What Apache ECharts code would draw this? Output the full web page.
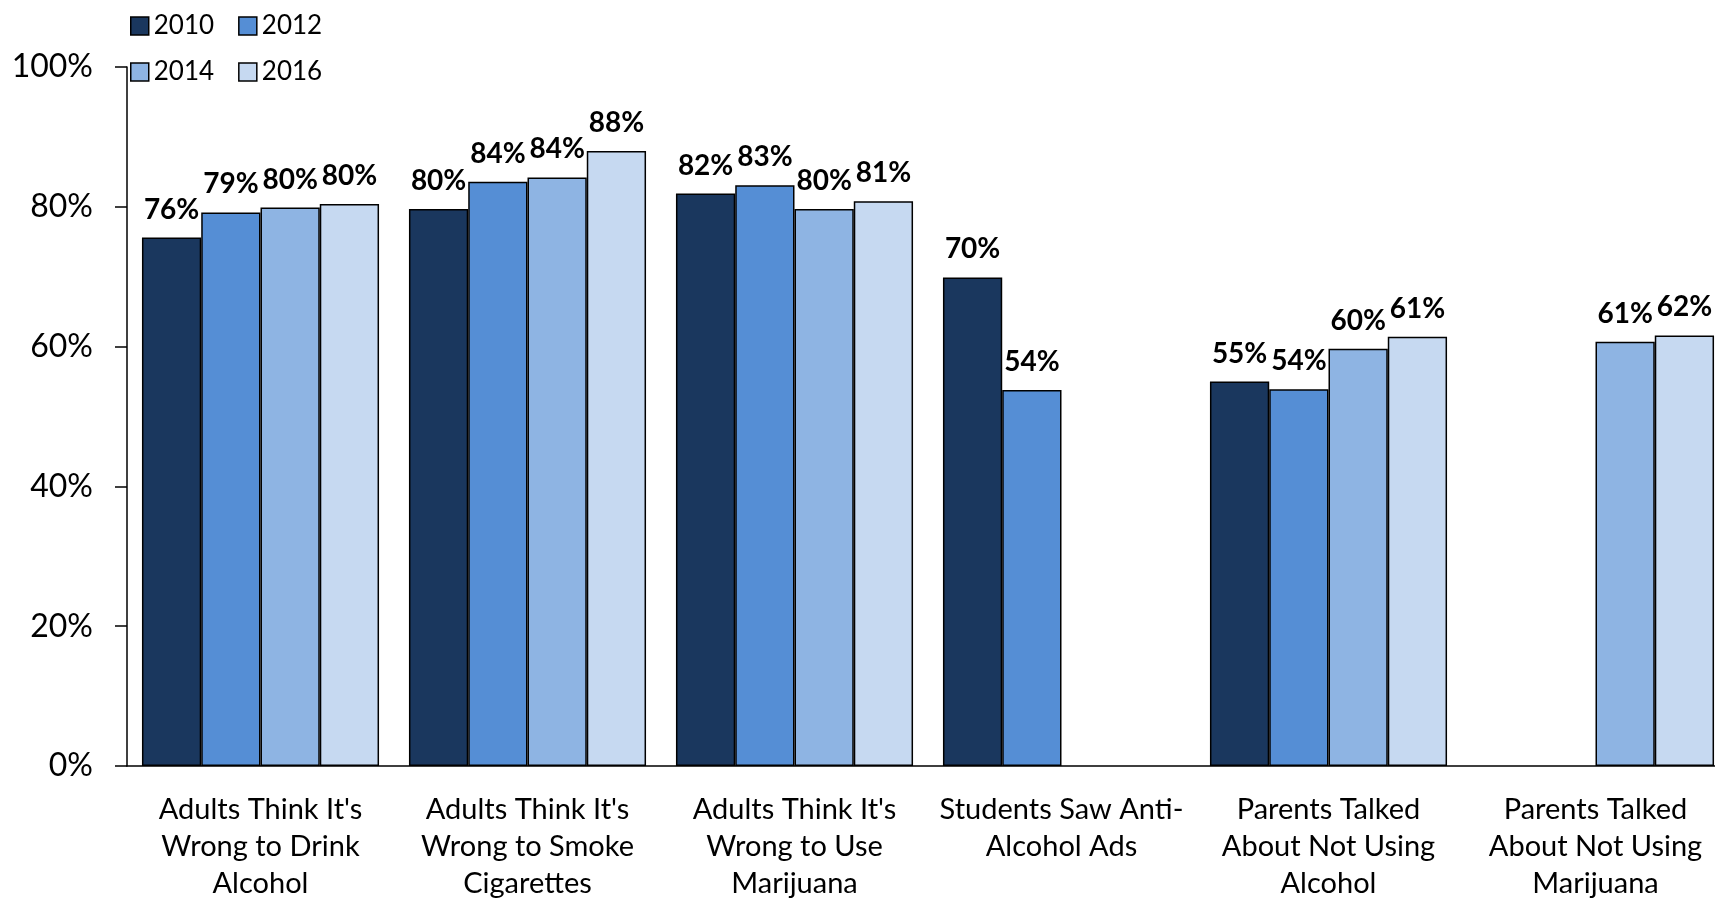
<!DOCTYPE html>
<html>
<head>
<meta charset="utf-8">
<script src="https://cdn.jsdelivr.net/npm/echarts@6/dist/echarts.min.js"></script>
<style>
html,body{margin:0;padding:0;background:#fff;}
#chart{width:1715px;height:900px;}
</style>
</head>
<body>
<div id="chart"></div>
<script>
const categories = [
  "Adults Think It's\nWrong to Drink\nAlcohol",
  "Adults Think It's\nWrong to Smoke\nCigarettes",
  "Adults Think It's\nWrong to Use\nMarijuana",
  "Students Saw Anti-\nAlcohol Ads",
  "Parents Talked\nAbout Not Using\nAlcohol",
  "Parents Talked\nAbout Not Using\nMarijuana"
];
const years = ['2010', '2012', '2014', '2016'];
const values2010 = [75.6, 79.7, 81.9, 69.9, 55.0, null];
const values2012 = [79.2, 83.6, 83.1, 53.8, 53.9, null];
const values2014 = [79.9, 84.2, 79.7, null, 59.7, 60.7];
const values2016 = [80.4, 88.0, 80.8, null, 61.4, 61.6];
const yTicks = [0, 20, 40, 60, 80, 100];
const colors = ['#1A375E', '#558ED5', '#8EB4E3', '#C6D9F1'];

const seriesValues = [values2010, values2012, values2014, values2016];
const FONT = 'Lato';

const chart = echarts.init(document.getElementById('chart'));
chart.setOption({
  animation: false,
  backgroundColor: '#fff',
  textStyle: { fontFamily: FONT },
  legend: [
    {
      data: [years[0], years[1]],
      left: 125, top: 8,
      icon: 'rect', itemWidth: 18, itemHeight: 18, itemGap: 24,
      textStyle: { fontFamily: FONT, fontSize: 26, color: '#000' },
      itemStyle: { borderColor: '#000', borderWidth: 1.5 }
    },
    {
      data: [years[2], years[3]],
      left: 125, top: 54,
      icon: 'rect', itemWidth: 18, itemHeight: 18, itemGap: 24,
      textStyle: { fontFamily: FONT, fontSize: 26, color: '#000' },
      itemStyle: { borderColor: '#000', borderWidth: 1.5 }
    }
  ],
  grid: { left: 127, right: -14, top: 67, bottom: 134, outerBoundsMode: 'none', containLabel: false },
  xAxis: {
    type: 'category',
    data: categories,
    axisLine: { lineStyle: { color: '#000', width: 1.5 } },
    axisTick: { show: false },
    axisLabel: {
      interval: 0, color: '#000', fontFamily: FONT, fontSize: 29,
      lineHeight: 37, margin: 25
    }
  },
  yAxis: {
    type: 'value', min: 0, max: 100, interval: 20,
    axisLine: { show: true, lineStyle: { color: '#000', width: 1.5 } },
    axisTick: { show: true, length: 12, lineStyle: { color: '#000', width: 1.5 } },
    splitLine: { show: false },
    axisLabel: {
      color: '#000', fontFamily: FONT, fontSize: 32, margin: 34,
      formatter: v => yTicks.includes(v) ? v + '%' : ''
    }
  },
  series: seriesValues.map((vals, i) => ({
    name: years[i],
    type: 'bar',
    data: vals.map(v => v === null ? '-' : v),
    barGap: '0%',
    barCategoryGap: '11.2%',
    itemStyle: { color: colors[i], borderColor: '#000', borderWidth: 1.5 },
    label: {
      show: true, position: 'top', distance: 14,
      color: '#000', fontFamily: FONT, fontWeight: 'bold', fontSize: 28,
      formatter: p => Math.round(p.value) + '%'
    }
  }))
});
</script>
</body>
</html>
